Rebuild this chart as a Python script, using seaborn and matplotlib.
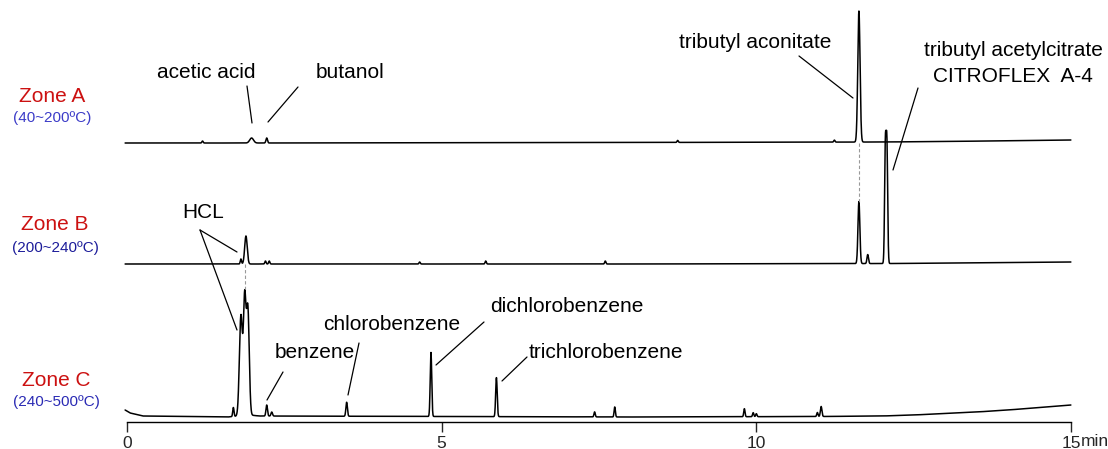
import numpy as np
import matplotlib
matplotlib.use("Agg")
import matplotlib.pyplot as plt
import seaborn as sns

# Chromatogram data (time in min, height in px-like units)
zone_names = ["Zone A", "Zone B", "Zone C"]
zone_temps = ["(40~200ºC)", "(200~240ºC)", "(240~500ºC)"]

# baselines (knots)
a_base_t = [-0.03, 2.0, 8.0, 12.0, 13.0, 15.0]
a_base_y = [279, 279, 279.5, 280, 280.5, 282]
b_base_t = [-0.03, 8.0, 12.2, 15.0]
b_base_y = [158, 158, 158.5, 160]
c_base_t = [-0.03, 0.05, 0.25, 1.6, 1.95, 2.1, 8.0, 11.0, 12.0, 12.5, 13.0,
            13.5, 14.0, 14.5, 15.0]
c_base_y = [12, 9, 6, 5, 7, 6, 5, 5.5, 6, 7, 8.5, 10, 12, 14.5, 17]

# peaks: retention time, height, width (sigma)
a_peak_t = [1.2, 1.98, 2.22, 8.75, 11.24, 11.63]
a_peak_h = [2, 5, 5, 2, 2, 131]
a_peak_w = [0.01, 0.03, 0.012, 0.01, 0.01, 0.018]

b_peak_t = [1.81, 1.89, 2.2, 2.26, 4.65, 5.7, 7.6, 11.63, 11.77, 12.05, 12.075]
b_peak_h = [5, 28, 3, 3, 2, 3, 3, 62, 9, 114, 114]
b_peak_w = [0.01, 0.02, 0.01, 0.01, 0.01, 0.01, 0.01, 0.015, 0.012, 0.012, 0.012]

c_peak_t = [1.69, 1.81, 1.87, 1.92, 2.22, 2.3, 3.49, 4.83, 5.87, 7.43,
            7.75, 9.81, 9.95, 10.0, 10.97, 11.03]
c_peak_h = [9, 100, 113, 106, 11, 4, 14, 64, 39, 5, 10, 8, 4, 3, 4, 10]
c_peak_w = [0.01, 0.024, 0.02, 0.022, 0.012, 0.012, 0.012, 0.012, 0.012,
            0.01, 0.01, 0.01, 0.01, 0.01, 0.01, 0.012]

tick_vals = [0, 5, 10, 15]
tick_labels = ["0", "5", "10", "15"]

times = np.arange(-0.03, 15.0, 0.002)


def build_trace(base_t, base_y, pk_t, pk_h, pk_w):
    y = np.interp(times, base_t, base_y)
    for t0, h, w in zip(pk_t, pk_h, pk_w):
        y = y + h * np.exp(-0.5 * ((times - t0) / w) ** 2)
    return y


traces = [
    build_trace(a_base_t, a_base_y, a_peak_t, a_peak_h, a_peak_w),
    build_trace(b_base_t, b_base_y, b_peak_t, b_peak_h, b_peak_w),
    build_trace(c_base_t, c_base_y, c_peak_t, c_peak_h, c_peak_w),
]

sns.set_style("white")
plt.rcParams["font.family"] = ["Liberation Sans", "DejaVu Sans"]

W, H = 1108, 449
fig = plt.figure(figsize=(W / 100, H / 100), dpi=100)
ax = fig.add_axes([127 / W, (H - 422) / H, (1071 - 127) / W, 422 / H])
ax.set_xlim(0, 15)
ax.set_ylim(0, 422)


def px(xp, yp):
    # image pixel -> data coords
    return ((xp - 127) / (944 / 15), 422 - yp)


for tr in traces:
    sns.lineplot(x=times, y=tr, ax=ax, color="black", lw=1.1,
                 estimator=None, sort=False, clip_on=False)

# grey dashed guides
ax.plot([11.63, 11.63], [279, 158 + 62], color="#999999", lw=0.8, ls=(0, (3, 2)))
ax.plot([1.87, 1.87], [158, 5 + 128], color="#999999", lw=0.8, ls=(0, (3, 2)))

for s in ["left", "top", "right"]:
    ax.spines[s].set_visible(False)
ax.spines["bottom"].set_color("black")
ax.spines["bottom"].set_linewidth(1.0)
ax.set_yticks([])
ax.set_xticks(tick_vals)
ax.set_xticklabels(tick_labels)
ax.tick_params(axis="x", direction="out", length=7, width=1, labelsize=12.5,
               bottom=True, pad=3)
ax.text(*px(1080.5, 441), "min", fontsize=12.5, ha="left", va="center", clip_on=False)

# zone labels
zone_pos = [(52, 97, 118), (55, 225, 248), (56, 380, 402)]
temp_colors = ["#3c3cc8", "#1c1c9a", "#2a2ab4"]
for name, temp, (xc, y1, y2), tc in zip(zone_names, zone_temps, zone_pos, temp_colors):
    ax.text(*px(xc, y1), name, color="#cc1111", fontsize=15, ha="center",
            va="center", clip_on=False)
    ax.text(*px(xc, y2), temp, color=tc, fontsize=11, ha="center",
            va="center", clip_on=False)

# peak annotations: label, text centre, leader lines
labels = [
    ("acetic acid", (206, 73), [((247, 86), (252, 123))]),
    ("butanol", (350, 73), [((298, 87), (268, 122))]),
    ("tributyl aconitate", (755, 42), [((799, 56), (853, 98))]),
    ("tributyl acetylcitrate", (1013, 50), [((918, 88), (893, 170))]),
    ("CITROFLEX  A-4", (1013, 77), []),
    ("HCL", (203, 212), [((200, 230), (237, 252)), ((200, 230), (237, 330))]),
    ("benzene", (315, 352), [((283, 372), (267, 400))]),
    ("chlorobenzene", (392, 325), [((359, 343), (348, 395))]),
    ("dichlorobenzene", (567, 307), [((484, 322), (436, 365))]),
    ("trichlorobenzene", (606, 352), [((527, 357), (502, 381))]),
]
for txt, (tx, ty), lines in labels:
    ax.text(*px(tx, ty), txt, fontsize=15, ha="center", va="center",
            color="black", clip_on=False)
    for (x0, y0), (x1, y1) in lines:
        p0 = px(x0, y0)
        p1 = px(x1, y1)
        ax.plot([p0[0], p1[0]], [p0[1], p1[1]], color="black", lw=0.9,
                clip_on=False)

fig.savefig("out.png", dpi=100)
